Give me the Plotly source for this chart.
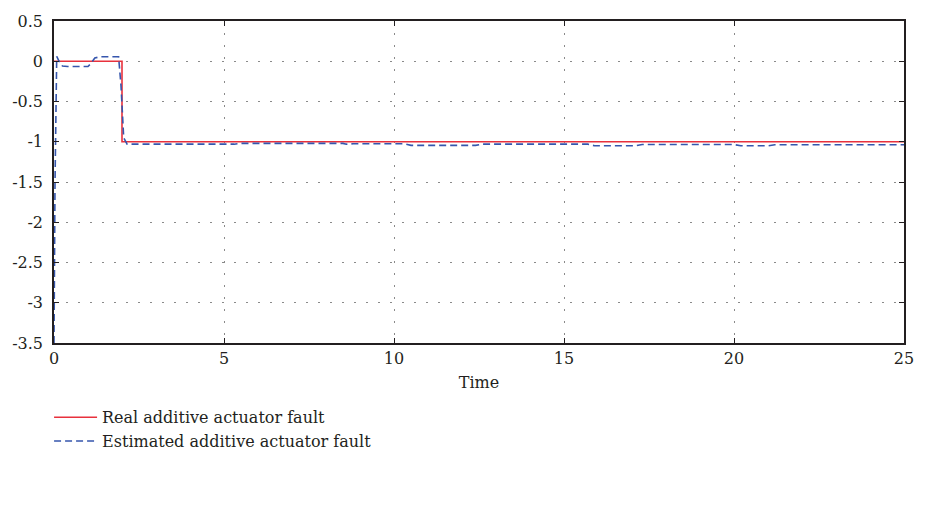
import plotly.graph_objects as go

# Real additive actuator fault
real_t = [0, 2, 2, 25]
real_f = [0, 0, -1, -1]

# Estimated additive actuator fault
est_t = [0, 0.03, 0.08, 0.15, 0.25, 0.4, 1.0, 1.08, 1.2, 1.35, 1.9, 1.97, 2.05, 2.15, 2.3,
         5.3, 5.5, 8.5, 8.6, 8.8, 10.3, 10.5, 12.4, 12.6, 15.7, 15.9, 17.1, 17.3,
         20.0, 20.2, 21.0, 21.2, 25]
est_f = [-3.5, -1.5, 0.06, 0.0, -0.06, -0.065, -0.065, -0.03, 0.04, 0.055, 0.055, -0.3, -0.95, -1.03, -1.03,
         -1.03, -1.02, -1.02, -1.03, -1.025, -1.025, -1.045, -1.045, -1.03, -1.03, -1.05, -1.05, -1.035,
         -1.035, -1.05, -1.05, -1.037, -1.037]

x_ticks = [0, 5, 10, 15, 20, 25]
y_ticks = [0.5, 0, -0.5, -1, -1.5, -2, -2.5, -3, -3.5]
y_labels = ["0.5", "0", "-0.5", "-1", "-1.5", "-2", "-2.5", "-3", "-3.5"]

FONT = "DejaVu Serif"
TXT = "#231f20"

fig = go.Figure()
fig.add_trace(go.Scatter(x=real_t, y=real_f, mode="lines",
                         line=dict(color="#e8313c", width=1.6),
                         name="Real additive actuator fault"))
fig.add_trace(go.Scatter(x=est_t, y=est_f, mode="lines",
                         line=dict(color="#3656ad", width=1.6, dash="7px,4px"),
                         name="Estimated additive actuator fault"))

fig.update_layout(
    width=926, height=508,
    margin=dict(l=52, r=14, t=15, b=165),
    paper_bgcolor="white", plot_bgcolor="white",
    font=dict(family=FONT, size=16, color=TXT),
    showlegend=True,
    legend=dict(x=-0.0058, y=-0.178, xanchor="left", yanchor="top",
                itemwidth=43,
                font=dict(family=FONT, size=16, color=TXT),
                bgcolor="rgba(0,0,0,0)", tracegroupgap=0),
)
fig.update_xaxes(
    range=[0, 25], tickmode="array", tickvals=x_ticks,
    ticks="inside", ticklen=5, tickcolor=TXT, tickwidth=1.2,
    showline=True, linecolor=TXT, linewidth=1.5, mirror="ticks",
    showgrid=True, gridcolor="#8a8a8a", griddash="2px,10px", gridwidth=1,
    zeroline=False,
    title=dict(text="Time", font=dict(family=FONT, size=16, color=TXT), standoff=10),
    tickfont=dict(family=FONT, size=16, color=TXT),
)
fig.update_yaxes(
    range=[-3.5, 0.5], tickmode="array", tickvals=y_ticks, ticktext=y_labels,
    ticks="inside", ticklen=5, tickcolor=TXT, tickwidth=1.2,
    showline=True, linecolor=TXT, linewidth=1.5, mirror="ticks",
    showgrid=True, gridcolor="#8a8a8a", griddash="2px,10px", gridwidth=1,
    zeroline=False, ticklabelstandoff=6,
    tickfont=dict(family=FONT, size=16, color=TXT),
)

fig.write_html("out.html")
